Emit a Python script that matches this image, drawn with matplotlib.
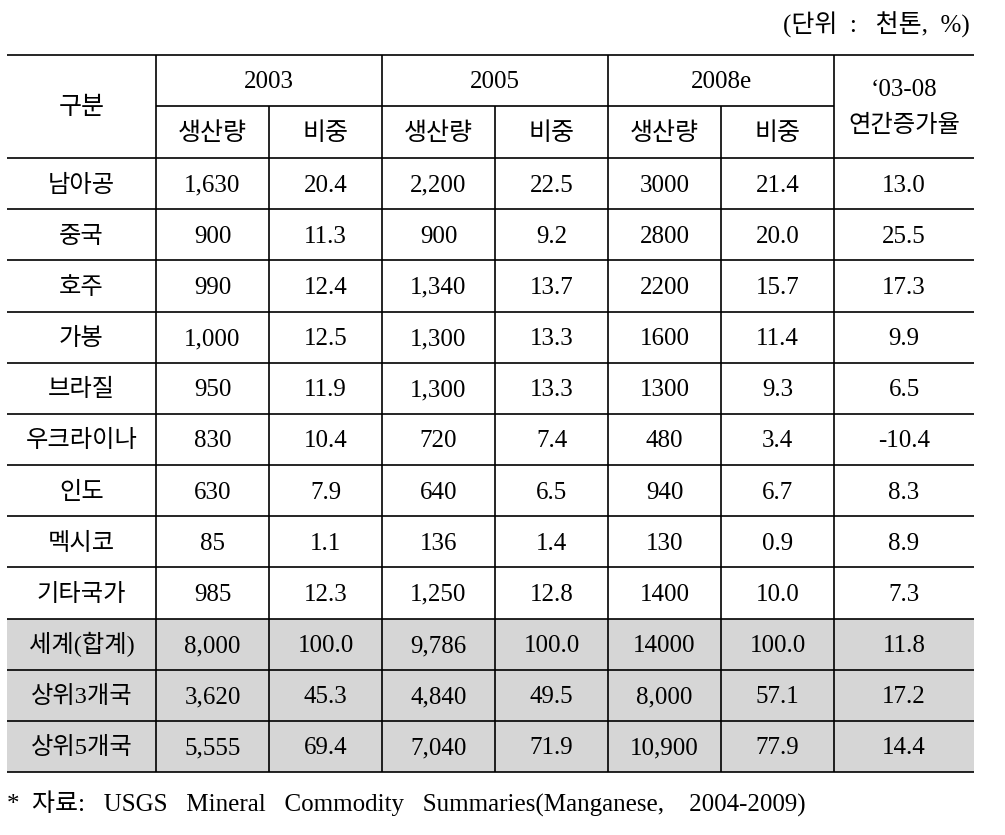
import matplotlib
matplotlib.use("Agg")
import matplotlib.pyplot as plt
from matplotlib.patches import Rectangle

plt.rcParams["font.family"] = ["Liberation Serif", "Noto Sans CJK KR", "DejaVu Sans"]

years = ["2003", "2005", "2008e"]
sub_headers = ["생산량", "비중"]
growth_header = "‘03-08\n연간증가율"
first_header = "구분"

countries = ["남아공", "중국", "호주", "가봉", "브라질", "우크라이나", "인도", "멕시코", "기타국가",
             "세계(합계)", "상위3개국", "상위5개국"]
prod_2003 = ["1,630", "900", "990", "1,000", "950", "830", "630", "85", "985", "8,000", "3,620", "5,555"]
share_2003 = ["20.4", "11.3", "12.4", "12.5", "11.9", "10.4", "7.9", "1.1", "12.3", "100.0", "45.3", "69.4"]
prod_2005 = ["2,200", "900", "1,340", "1,300", "1,300", "720", "640", "136", "1,250", "9,786", "4,840", "7,040"]
share_2005 = ["22.5", "9.2", "13.7", "13.3", "13.3", "7.4", "6.5", "1.4", "12.8", "100.0", "49.5", "71.9"]
prod_2008 = ["3000", "2800", "2200", "1600", "1300", "480", "940", "130", "1400", "14000", "8,000", "10,900"]
share_2008 = ["21.4", "20.0", "15.7", "11.4", "9.3", "3.4", "6.7", "0.9", "10.0", "100.0", "57.1", "77.9"]
growth = ["13.0", "25.5", "17.3", "9.9", "6.5", "-10.4", "8.3", "8.9", "7.3", "11.8", "17.2", "14.4"]
n_summary = 3

unit_text = "(단위  :   천톤,  %)"
source_text = "*  자료:   USGS   Mineral   Commodity   Summaries(Manganese,    2004-2009)"

W, H = 1005, 835
fig = plt.figure(figsize=(W / 100, H / 100), dpi=100)
ax = fig.add_axes([0, 0, 1, 1])
ax.set_xlim(0, W)
ax.set_ylim(H, 0)
ax.axis("off")

col_x = [7, 156, 269, 382, 495, 608, 721, 834, 974]
top, mid, head_bot = 55, 106, 158
row_h = (772 - head_bot) / len(countries)
row_y = [head_bot + i * row_h for i in range(len(countries) + 1)]
fs = 18      # numbers / latin text
fs_ko = 17.5  # korean labels
base = 8     # baseline offset below cell centre
lw = 1.2
gray = "#d6d6d6"

# shaded summary rows
n = len(countries)
ax.add_patch(Rectangle((col_x[0], row_y[n - n_summary]), col_x[-1] - col_x[0],
                       row_y[n] - row_y[n - n_summary], facecolor=gray, edgecolor="none", zorder=0))

# grid lines
ax.hlines([top, head_bot] + row_y[1:], col_x[0], col_x[-1], color="black", lw=lw)
ax.hlines(mid, col_x[1], col_x[-2], color="black", lw=lw)
ax.vlines([col_x[1], col_x[3], col_x[5], col_x[7]], top, row_y[-1], color="black", lw=lw)
ax.vlines([col_x[2], col_x[4], col_x[6]], mid, row_y[-1], color="black", lw=lw)


def cx(i):
    return (col_x[i] + col_x[i + 1]) / 2


def put(x, y, s, size=fs, **kw):
    ax.text(x, y + base, s, ha="center", va="baseline", fontsize=size, **kw)


# header
put(cx(0), (top + head_bot) / 2, first_header, 18)
for k, yr in enumerate(years):
    put((col_x[1 + 2 * k] + col_x[3 + 2 * k]) / 2, (top + mid) / 2, yr)
    for j, s in enumerate(sub_headers):
        put(cx(1 + 2 * k + j), (mid + head_bot) / 2, s, 18)
put(cx(7), (top + mid) / 2 + 8, growth_header.split("\n")[0])
put(cx(7), (mid + head_bot) / 2 - 8, growth_header.split("\n")[1], fs_ko)

# body
columns = [countries, prod_2003, share_2003, prod_2005, share_2005, prod_2008, share_2008, growth]
for i in range(n):
    y = (row_y[i] + row_y[i + 1]) / 2
    for c, col in enumerate(columns):
        put(cx(c), y, col[i], fs_ko if c == 0 else fs)

ax.text(970, 33, unit_text, ha="right", va="baseline", fontsize=fs)
ax.text(7, 812, source_text, ha="left", va="baseline", fontsize=fs)

fig.savefig("out.png", dpi=100)
